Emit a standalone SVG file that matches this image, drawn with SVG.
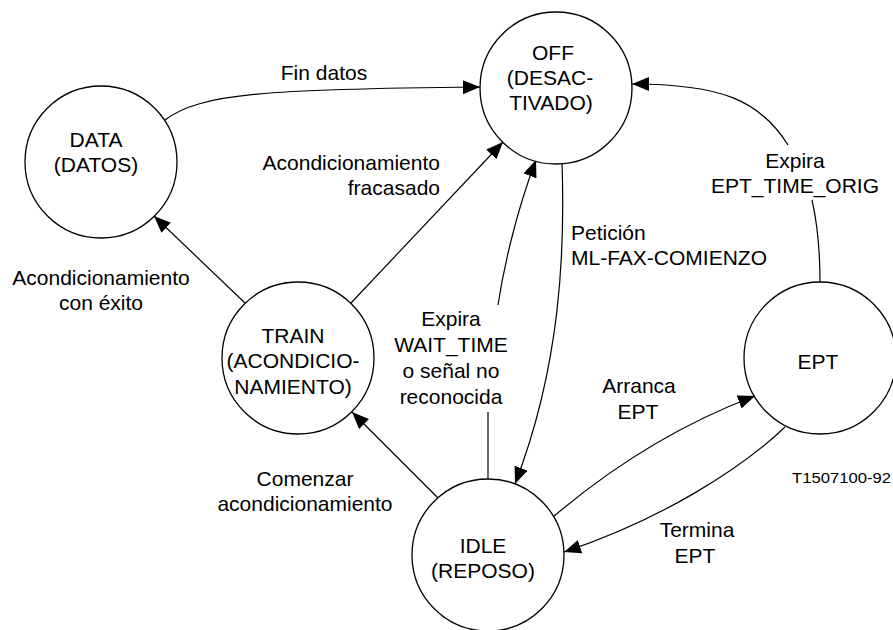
<svg xmlns="http://www.w3.org/2000/svg" width="893" height="630" viewBox="0 0 893 630">
  <defs>
    <marker id="arrow" markerUnits="userSpaceOnUse" markerWidth="19" markerHeight="15" refX="17" refY="7" orient="auto">
      <path d="M0,0 L17,7 L0,14 z" fill="#000"/>
    </marker>
    <style>
      .state { fill: #fff; stroke: #000; stroke-width: 1.3; }
      .edge { fill: none; stroke: #000; stroke-width: 1.2; }
      .arr { marker-end: url(#arrow); }
      text { font-family: "Liberation Sans", Arial, sans-serif; font-size: 21px; fill: #000; }
      .c { text-anchor: middle; }
      .e { text-anchor: end; }
      .s { text-anchor: start; }
    </style>
  </defs>
  <rect width="893" height="630" fill="#fff"/>

  <!-- connectors -->
  <g id="connectors">
    <!-- Fin datos: DATA -> OFF -->
    <path class="edge arr" d="M165,120 C200,93 270,89 480,87"/>
    <!-- Acondicionamiento fracasado: TRAIN -> OFF -->
    <path class="edge arr" d="M351,303 L503,142"/>
    <!-- Expira WAIT_TIME: IDLE -> OFF (broken around its label) -->
    <path class="edge" d="M488,479 L488,412"/>
    <path class="edge arr" d="M498,305 C503,272 515,215 536,160"/>
    <!-- Peticion ML-FAX-COMIENZO: OFF -> IDLE -->
    <path class="edge arr" d="M562,162 C565,250 561,365 515,484"/>
    <!-- Expira EPT_TIME_ORIG: EPT -> OFF (broken around its label) -->
    <path class="edge" d="M820,282 C820,250 817,222 812,200"/>
    <path class="edge arr" d="M788,145 C760,100 720,84 632,84"/>
    <!-- Acondicionamiento con exito: TRAIN -> DATA -->
    <path class="edge arr" d="M245,303 L154,216"/>
    <!-- Comenzar acondicionamiento: IDLE -> TRAIN -->
    <path class="edge arr" d="M438,498 L352,412"/>
    <!-- Arranca EPT: IDLE -> EPT -->
    <path class="edge arr" d="M553,517 C600,477 670,428 755,396"/>
    <!-- Termina EPT: EPT -> IDLE -->
    <path class="edge arr" d="M785,427 C740,470 660,520 564,552"/>
  </g>

  <!-- states -->
  <g id="state-data">
    <circle class="state" cx="101" cy="162" r="76"/>
    <text class="c" x="96" y="147">DATA</text>
    <text class="c" x="96" y="172">(DATOS)</text>
  </g>
  <g id="state-off">
    <circle class="state" cx="556" cy="88" r="76"/>
    <text class="c" x="553" y="60">OFF</text>
    <text class="c" x="550" y="85">(DESAC-</text>
    <text class="c" x="551" y="110">TIVADO)</text>
  </g>
  <g id="state-train">
    <circle class="state" cx="298" cy="358" r="76"/>
    <text class="c" x="293" y="343">TRAIN</text>
    <text class="c" x="293" y="368">(ACONDICIO-</text>
    <text class="c" x="293" y="394">NAMIENTO)</text>
  </g>
  <g id="state-ept">
    <circle class="state" cx="820" cy="358" r="76"/>
    <text class="c" x="818" y="369">EPT</text>
  </g>
  <g id="state-idle">
    <circle class="state" cx="488" cy="555" r="76"/>
    <text class="c" x="483" y="553">IDLE</text>
    <text class="c" x="483" y="578">(REPOSO)</text>
  </g>

  <!-- transition labels -->
  <g id="labels">
    <text class="c" x="324" y="80">Fin datos</text>
    <text class="e" x="440" y="170">Acondicionamiento</text>
    <text class="e" x="440" y="195">fracasado</text>
    <text class="c" x="101" y="285">Acondicionamiento</text>
    <text class="c" x="101" y="310">con éxito</text>
    <text class="s" x="571" y="240">Petición</text>
    <text class="s" x="571" y="265">ML-FAX-COMIENZO</text>
    <text class="c" x="795" y="168">Expira</text>
    <text class="c" x="795" y="193">EPT_TIME_ORIG</text>
    <text class="c" x="451" y="326">Expira</text>
    <text class="c" x="451" y="352">WAIT_TIME</text>
    <text class="c" x="451" y="378">o señal no</text>
    <text class="c" x="451" y="404">reconocida</text>
    <text class="c" x="639" y="393">Arranca</text>
    <text class="c" x="638" y="419">EPT</text>
    <text class="c" x="697" y="537">Termina</text>
    <text class="c" x="695" y="563">EPT</text>
    <text class="c" x="305" y="486">Comenzar</text>
    <text class="c" x="305" y="511">acondicionamiento</text>
    <text class="s" x="792" y="483" style="font-size:15px" textLength="99" lengthAdjust="spacingAndGlyphs">T1507100-92</text>
  </g>
</svg>
